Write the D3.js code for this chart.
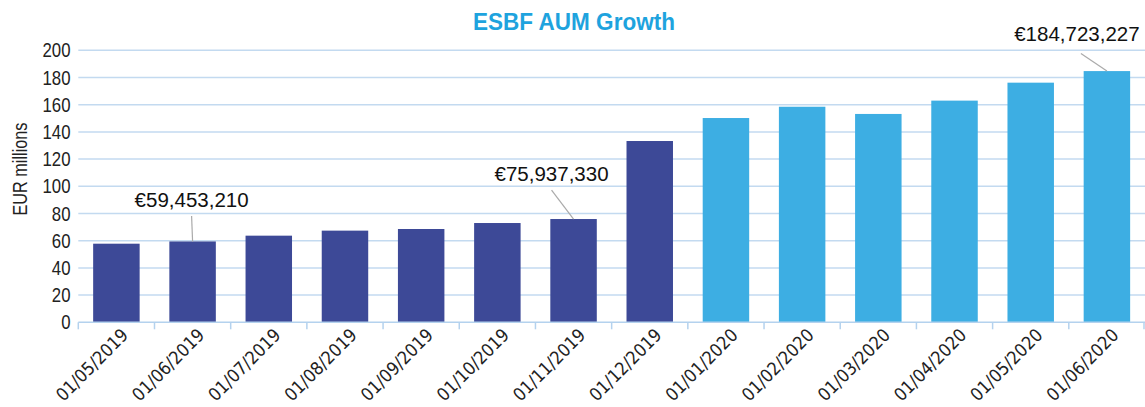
<!DOCTYPE html>
<html>
<head>
<meta charset="utf-8">
<script src="https://cdn.jsdelivr.net/npm/d3@7"></script>
<style>
  body { margin: 0; background: #fff; }
  .cond { font-family: "DejaVu Sans Condensed", sans-serif; }
  .lib { font-family: "Liberation Sans", Arial, sans-serif; }
</style>
</head>
<body>
<div id="chart"></div>
<script>
// data
const dates = ["01/05/2019", "01/06/2019", "01/07/2019", "01/08/2019", "01/09/2019",
               "01/10/2019", "01/11/2019", "01/12/2019", "01/01/2020", "01/02/2020",
               "01/03/2020", "01/04/2020", "01/05/2020", "01/06/2020"];
const aum = [57.8, 59.45, 63.7, 67.4, 68.6, 73.0, 75.94, 133.3, 150.2, 158.5, 153.2, 163.0, 176.2, 184.72];
const yTicks = [0, 20, 40, 60, 80, 100, 120, 140, 160, 180, 200];
const labelled = ["01/06/2019", "01/11/2019", "01/06/2020"];
const labelText = ["€59,453,210", "€75,937,330", "€184,723,227"];

// callout text offset from bar top (dx, dy) and leader start offset from text (lx, ly)
const calloutOffset = [[-1, -34.5, 0, 9], [-22, -38, 0, 9], [-30, -30.5, 4, 13]];

const width = 1145, height = 407;
const svg = d3.select("#chart").append("svg")
    .attr("width", width)
    .attr("height", height);

const x = d3.scaleBand()
    .domain(dates)
    .range([78.3, 1145])
    .paddingInner(0.39)
    .paddingOuter(0.195);

const y = d3.scaleLinear()
    .domain([0, 200])
    .range([322.3, 50.3]);

// gridlines
svg.append("g")
  .selectAll("line")
  .data(yTicks.slice(1))
  .join("line")
    .attr("x1", 78.3).attr("x2", 1145)
    .attr("y1", d => y(d)).attr("y2", d => y(d))
    .attr("stroke", "#c3daf0")
    .attr("stroke-width", 1.5);

// bars
svg.append("g")
  .selectAll("rect")
  .data(dates)
  .join("rect")
    .attr("x", d => x(d))
    .attr("width", x.bandwidth())
    .attr("y", (d, i) => y(aum[i]))
    .attr("height", (d, i) => y(0) - y(aum[i]))
    .attr("fill", d => d.endsWith("2020") ? "#3daee3" : "#3d4997");

// baseline + tick marks between bands
const step = x.step();
const bounds = d3.range(dates.length + 1).map(i => 78.3 + i * step);
const base = svg.append("g");
base.append("line")
    .attr("x1", 78.3).attr("x2", 1145)
    .attr("y1", y(0)).attr("y2", y(0))
    .attr("stroke", "#b4d2ee")
    .attr("stroke-width", 1.5);
base.selectAll("line.tk")
  .data(bounds)
  .join("line")
    .attr("class", "tk")
    .attr("x1", d => Math.min(d, 1144)).attr("x2", d => Math.min(d, 1144))
    .attr("y1", y(0)).attr("y2", y(0) + 7)
    .attr("stroke", "#b4d2ee")
    .attr("stroke-width", 1.5);

// y tick labels (narrowed a bit to look like the condensed original)
svg.append("g")
  .selectAll("text")
  .data(yTicks)
  .join("text")
    .attr("class", "lib")
    .attr("transform", d => `translate(70.5,${y(d) + 7}) scale(0.84,1)`)
    .attr("text-anchor", "end")
    .attr("font-size", 20)
    .attr("fill", "#222")
    .text(d => d);

// x tick labels
svg.append("g")
  .selectAll("text")
  .data(dates)
  .join("text")
    .attr("class", "cond")
    .attr("text-anchor", "end")
    .attr("font-size", 18)
    .attr("fill", "#222")
    .attr("transform", d => `translate(${x(d) + x.bandwidth() / 2 + 13},${y(0) + 14}) rotate(-45)`)
    .text(d => d);

// y axis title
svg.append("text")
    .attr("class", "lib")
    .attr("transform", "translate(26.5,169) rotate(-90)")
    .attr("text-anchor", "middle")
    .attr("font-size", 20.5)
    .attr("textLength", 93)
    .attr("lengthAdjust", "spacingAndGlyphs")
    .attr("fill", "#222")
    .text("EUR millions");

// chart title
svg.append("text")
    .attr("class", "lib")
    .attr("x", 574)
    .attr("y", 29.5)
    .attr("text-anchor", "middle")
    .attr("font-size", 23)
    .attr("font-weight", "bold")
    .attr("textLength", 202)
    .attr("lengthAdjust", "spacingAndGlyphs")
    .attr("fill", "#1ea3de")
    .text("ESBF AUM Growth");

// callouts
labelled.forEach((d, k) => {
  const i = dates.indexOf(d);
  const bx = x(d) + x.bandwidth() / 2;
  const by = y(aum[i]);
  const [dx, dy, lx, ly] = calloutOffset[k];
  const tx = bx + dx, ty = by + dy;
  svg.append("line")
      .attr("x1", tx + lx).attr("y1", ty + ly)
      .attr("x2", bx).attr("y2", by)
      .attr("stroke", "#aaa")
      .attr("stroke-width", 1.2);
  svg.append("text")
      .attr("class", "lib")
      .attr("x", tx)
      .attr("y", ty)
      .attr("text-anchor", "middle")
      .attr("font-size", 20.5)
      .attr("fill", "#111")
      .text(labelText[k]);
});
</script>
</body>
</html>
